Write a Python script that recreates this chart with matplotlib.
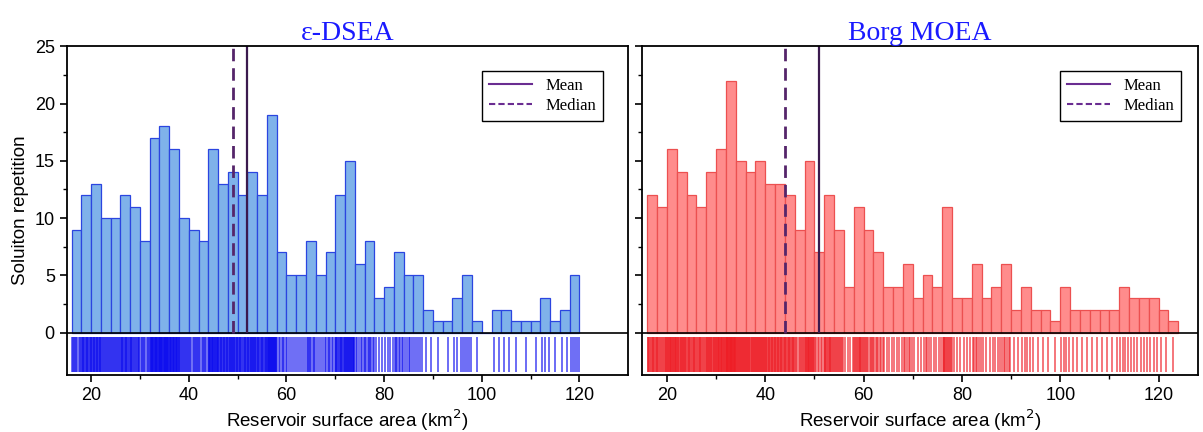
import numpy as np
import matplotlib.pyplot as plt
from matplotlib.lines import Line2D

# histogram counts (bin width 2 km^2, starting at 16)
bin_width = 2
dsea_start = 16
dsea_counts = [9, 12, 13, 10, 10, 12, 11, 8, 17, 18, 16, 10, 9, 8, 16, 13, 14, 12,
               14, 12, 19, 7, 5, 5, 8, 5, 7, 12, 15, 6, 8, 3, 4, 7, 5, 5, 2, 1,
               1, 3, 5, 1, 0, 2, 2, 1, 1, 1, 3, 1, 2, 5]
borg_start = 16
borg_counts = [12, 11, 16, 14, 12, 11, 14, 16, 22, 15, 14, 15, 13, 13, 12, 9, 15, 7,
               12, 9, 4, 11, 9, 7, 4, 4, 6, 3, 5, 4, 11, 3, 3, 6, 3, 4, 6, 2,
               4, 2, 2, 1, 4, 2, 2, 2, 2, 2, 4, 3, 3, 3, 2, 1]
dsea_mean, dsea_median = 52.0, 49.0
borg_mean, borg_median = 51.0, 44.0

titles = ['ε-DSEA', 'Borg MOEA']
xlims = [(15, 130), (15, 128)]


def rug_positions(start, counts):
    # spread each bin's solutions across the bin for the rug strip
    pos = []
    for i, n in enumerate(counts):
        lo = start + i * bin_width
        for k in range(n):
            pos.append(lo + (k + 0.5) * bin_width / n)
    return pos


plt.rcParams['font.family'] = ['Liberation Sans', 'DejaVu Sans']
fig = plt.figure(figsize=(12.03, 4.32), dpi=100)
ax1 = fig.add_axes([0.0554, 0.1319, 0.4669, 0.7609])
ax2 = fig.add_axes([0.5339, 0.1319, 0.4619, 0.7609])

panels = [
    (ax1, dsea_start, dsea_counts, dsea_mean, dsea_median, '#7fb2ea', '#2b45e0', '#0a0aee', 0.970),
    (ax2, borg_start, borg_counts, borg_mean, borg_median, '#ff8c8c', '#ec5050', '#ee1c24', 0.984),
]

for idx, (ax, start, counts, mean, median, face, edge, rugc, lg_x) in enumerate(panels):
    lefts = start + bin_width * np.arange(len(counts))
    ax.bar(lefts, counts, width=bin_width, align='edge', color=face,
           edgecolor=edge, linewidth=0.9)
    ax.vlines(rug_positions(start, counts), -3.4, -0.35, color=rugc,
              linewidth=1.2, alpha=0.7)
    ax.axhline(0, color='black', linewidth=1.2)
    ax.vlines(mean, 0, 25, color='#3b1a4e', linewidth=1.6)
    ax.vlines(median, 0, 25, color='#55256a', linewidth=2.0,
              linestyles=(0, (4.5, 2.5)))

    ax.set_xlim(*xlims[idx])
    ax.set_ylim(-3.7, 25)
    ax.set_xticks(np.arange(20, 121, 20))
    ax.set_xticks(np.arange(30, 121, 20), minor=True)
    ax.set_yticks(np.arange(0, 26, 5))
    ax.set_yticks(np.arange(2.5, 25, 5), minor=True)
    ax.tick_params(which='major', direction='out', length=5, width=1.2, labelsize=13)
    ax.tick_params(which='minor', direction='out', length=3, width=1.0)
    for s in ax.spines.values():
        s.set_linewidth(1.3)
    if idx == 1:
        ax.tick_params(axis='y', labelleft=False)
    ax.set_xlabel('Reservoir surface area (km$^2$)', fontsize=13.5, labelpad=3)
    ax.set_title(titles[idx], color='#1a1aff', fontsize=20,
                 family=['Liberation Serif', 'DejaVu Serif'], pad=3)

    handles = [Line2D([], [], color='#6a2c91', linewidth=1.5),
               Line2D([], [], color='#6a2c91', linewidth=1.5, linestyle=(0, (3, 1.5)))]
    leg = ax.legend(handles, ['Mean', 'Median'], loc='upper right',
                    bbox_to_anchor=(lg_x, 0.950), fancybox=False, framealpha=1,
                    edgecolor='black', prop={'family': 'Liberation Serif', 'size': 12},
                    handlelength=2.6, borderpad=0.4, labelspacing=0.25)
    leg.get_frame().set_linewidth(1.0)

ax1.set_ylabel('Soluiton repetition', fontsize=13.5, labelpad=4)

fig.savefig('out.png', dpi=100)
